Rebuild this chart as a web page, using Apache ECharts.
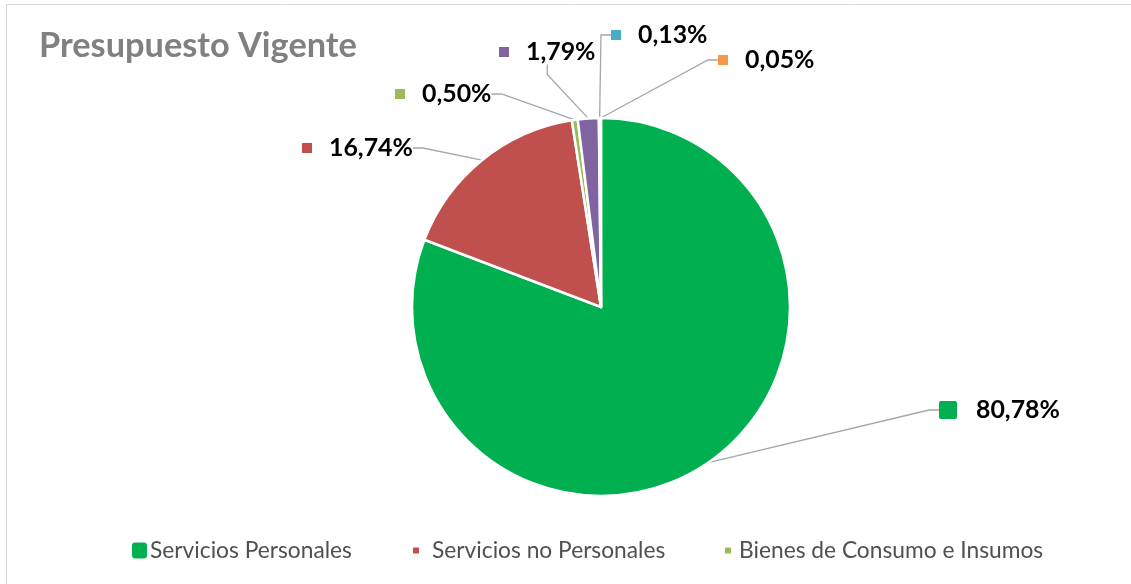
<!DOCTYPE html>
<html>
<head>
<meta charset="utf-8">
<script src="https://cdn.jsdelivr.net/npm/echarts@6/dist/echarts.min.js"></script>
<style>
html,body{margin:0;padding:0;background:#fff;}
#main{width:1131px;height:584px;}
</style>
</head>
<body>
<div id="main"></div>
<script>
const categories = ['Servicios Personales', 'Servicios no Personales', 'Bienes de Consumo e Insumos', 'Bienes de Uso', 'Transferencias', 'Activos Financieros'];
const values = [80.78, 16.74, 0.50, 1.79, 0.13, 0.05];
const labels = ['80,78%', '16,74%', '0,50%', '1,79%', '0,13%', '0,05%'];
const colors = ['#00B050', '#C0504D', '#9BBB59', '#8064A2', '#4BACC6', '#F79646'];
const legendNames = categories.slice(0, 3);

// label anchor placement (layout only)
const labelPos = [
  {x: 939, y: 410},
  {x: 302, y: 148},
  {x: 395, y: 94},
  {x: 499, y: 52},
  {x: 611, y: 35},
  {x: 718, y: 60}
];

const fontFam = 'Lato, "Open Sans", sans-serif';
const cvs = document.createElement('canvas').getContext('2d');
function fitSize(text, weight, target) {
  cvs.font = weight + ' 100px ' + fontFam;
  return 100 * target / cvs.measureText(text).width;
}
const titleSize = fitSize('Presupuesto Vigente', 'bold', 318);
const labelSize = fitSize('80,78%', 'bold', 84);
const legendSize = fitSize('Servicios Personales', 'normal', 202);

const chart = echarts.init(document.getElementById('main'));

const rich = {
  t: {fontFamily: fontFam, fontWeight: 'bold', fontSize: labelSize, color: '#000'},
  big: {width: 18, height: 18, backgroundColor: colors[0], borderRadius: 2},
  sp: {width: 17},
  sp0: {width: 19}
};
for (let i = 1; i < colors.length; i++) {
  rich['m' + i] = {width: 10, height: 10, backgroundColor: colors[i]};
}

const data = categories.map((n, i) => ({
  name: n,
  value: values[i],
  itemStyle: {color: colors[i]},
  label: {
    formatter: (i === 0 ? '{big|}{sp0|}' : '{m' + i + '|}{sp|}') + '{t|' + labels[i] + '}'
  }
}));

const legendTS = {fontFamily: fontFam, fontSize: legendSize, color: '#505050'};
const option = {
  backgroundColor: '#fff',
  title: {
    text: 'Presupuesto Vigente',
    left: 34, top: 24,
    textStyle: {fontFamily: fontFam, fontWeight: 'bold', fontSize: titleSize, color: '#808080'}
  },
  legend: [{
    data: [legendNames[0]],
    left: 130, top: 539, padding: 0,
    icon: 'roundRect',
    itemWidth: 17, itemHeight: 18, itemGap: 0,
    textStyle: Object.assign({}, legendTS, {padding: [0, 0, 0, -3]})
  }, {
    data: [legendNames[1]],
    left: 411, top: 539, padding: 0,
    icon: 'rect',
    itemWidth: 8, itemHeight: 8,
    textStyle: Object.assign({}, legendTS, {padding: [0, 0, 0, 7]})
  }, {
    data: [legendNames[2]],
    left: 723, top: 539, padding: 0,
    icon: 'rect',
    itemWidth: 8, itemHeight: 8,
    textStyle: Object.assign({}, legendTS, {padding: [0, 0, 0, 2]})
  }],
  graphic: [
    {type: 'line', shape: {x1: 6, y1: 4.5, x2: 1131, y2: 4.5}, style: {stroke: '#d9d9d9', lineWidth: 1}},
    {type: 'line', shape: {x1: 6.5, y1: 4, x2: 6.5, y2: 584}, style: {stroke: '#d9d9d9', lineWidth: 1}}
  ],
  series: [{
    type: 'pie',
    center: [601, 307],
    radius: 189,
    startAngle: 90,
    clockwise: true,
    avoidLabelOverlap: false,
    itemStyle: {borderColor: '#fff', borderWidth: 2.5},
    label: {show: true, rich: rich},
    labelLine: {show: true, length: 20, length2: 10, lineStyle: {color: '#a6a6a6', width: 1.3}},
    labelLayout: function (p) {
      const lp = labelPos[p.dataIndex];
      return {x: lp.x, y: lp.y, align: 'left', verticalAlign: 'middle'};
    },
    emphasis: {disabled: true},
    data: data
  }]
};
chart.setOption(option);
</script>
</body>
</html>
